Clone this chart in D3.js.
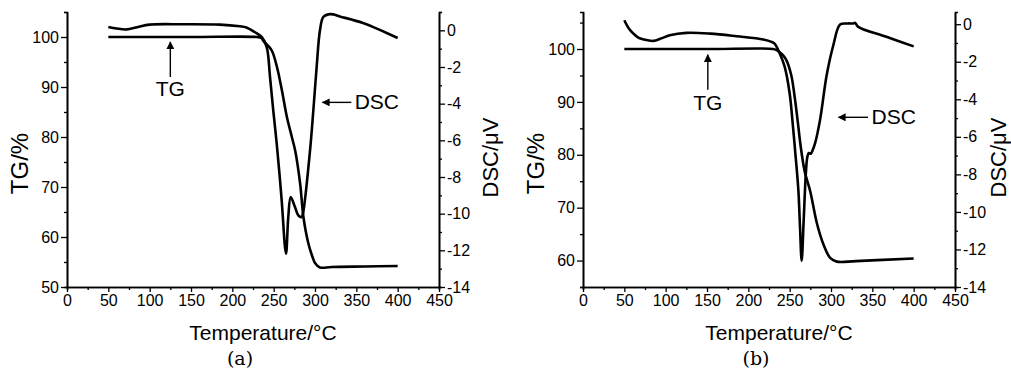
<!DOCTYPE html>
<html>
<head>
<meta charset="utf-8">
<script src="https://cdn.jsdelivr.net/npm/d3@7"></script>
<style>
  body { margin: 0; background: #fff; }
  svg { display: block; }
  text { font-family: "Liberation Sans", Arial, sans-serif; fill: #000; }
</style>
</head>
<body>
<svg id="chart"></svg>
<script>
var width = 1011;
var height = 371;

// temperature axis
var tempMajor = d3.range(0, 451, 50);
var tempMinor = d3.range(25, 450, 50);

// panel (a)
var tgTicksA = [50, 60, 70, 80, 90, 100];
var tgMinorA = [55, 65, 75, 85, 95, 105];
var dscTicksA = [-14, -12, -10, -8, -6, -4, -2, 0];
var dscMinorA = [-13, -11, -9, -7, -5, -3, -1, 1];
var tgA = [[50, 100], [150, 100], [230, 100], [235, 99.8], [238, 99.1], [243, 98.3], [248, 97.2],
  [254, 94], [260, 89.3], [266, 84], [272, 80], [276, 77.3], [282, 70.7], [286, 64], [292, 58.7],
  [297, 56], [300, 54.8], [306, 53.9], [320, 54], [360, 54.1], [400, 54.2]];
var dscA = [[50, 0.18], [60, 0.1], [72, 0.05], [85, 0.17], [100, 0.31], [140, 0.33], [185, 0.31],
  [209, 0.22], [217, 0.16], [227, -0.09], [235.5, -0.36], [241.6, -0.91], [245.6, -2.55],
  [249.5, -4.36], [253.7, -6.18], [259.7, -9.27], [263.7, -11.82], [265, -12.18], [267.7, -10.18],
  [270.6, -9.09], [275.8, -9.64], [279.8, -10.09], [283.9, -10.18], [285.5, -9.98], [294, -6.55],
  [298, -4.36], [302, -2.0], [306, 0], [310, 0.73], [316, 0.87], [322, 0.87], [330, 0.76],
  [358, 0.4], [400, -0.42]];

// panel (b)
var tgTicksB = [60, 70, 80, 90, 100];
var tgMinorB = [55, 65, 75, 85, 95, 105];
var dscTicksB = [-14, -12, -10, -8, -6, -4, -2, 0];
var dscMinorB = [-13, -11, -9, -7, -5, -3, -1];
var tgB = [[50, 100], [150, 100], [230, 100], [234, 99.8], [238, 99.4], [242, 98.8], [246, 97.9],
  [252, 95], [256, 91], [260, 86], [263, 82], [268, 77], [275, 73], [283, 67], [291, 63],
  [299, 60.5], [307, 59.8], [330, 59.9], [400, 60.4]];
var dscB = [[50, 0.21], [55, -0.2], [61, -0.5], [67, -0.72], [73, -0.81], [85, -0.89], [95, -0.75],
  [105, -0.59], [125, -0.46], [154, -0.5], [186, -0.64], [218, -0.81], [228, -0.94], [232, -1.05],
  [238, -1.56], [244, -2.27], [250, -3.69], [254, -5.46], [256.5, -6.7], [260.5, -8.83],
  [262.5, -10.8], [264.5, -12.6], [267, -10.4], [269.5, -8.0], [271.4, -7.07], [273.2, -6.86],
  [275.6, -6.9], [277.4, -6.75], [280.7, -6.35], [286.7, -5.11], [294.8, -2.71], [302.8, -1.12],
  [311, -0.02], [320, 0.04], [327, 0.04], [329, 0.08], [333, -0.14], [367, -0.67], [400, -1.18]];

var panels = [
  { left: 67, right: 439, tgDomain: [50, 105], dscDomain: [-14, 1],
    tgTicks: tgTicksA, tgMinor: tgMinorA, dscTicks: dscTicksA, dscMinor: dscMinorA,
    tg: tgA, dsc: dscA, label: '(a)',
    tgArrow: { t: 125, from: 92, to: 99, text: 88.3 },
    dscArrow: { y: -3.93, from: 344, to: 309, text: 348 },
    tgTitleX: 28, dscTitleX: 498 },
  { left: 583, right: 955, tgDomain: [55, 107], dscDomain: [-14, 0.65],
    tgTicks: tgTicksB, tgMinor: tgMinorB, dscTicks: dscTicksB, dscMinor: dscMinorB,
    tg: tgB, dsc: dscB, label: '(b)',
    tgArrow: { t: 151, from: 92.3, to: 98.9, text: 88.5 },
    dscArrow: { y: -4.96, from: 344.7, to: 309, text: 349 },
    tgTitleX: 544, dscTitleX: 1006 }
];

var plotTop = 12;
var plotBottom = 287;

var svg = d3.select('#chart')
  .attr('width', width)
  .attr('height', height);

svg.append('defs').append('marker')
  .attr('id', 'head')
  .attr('viewBox', '0 0 10 10')
  .attr('refX', 9)
  .attr('refY', 5)
  .attr('markerWidth', 8)
  .attr('markerHeight', 8)
  .attr('markerUnits', 'userSpaceOnUse')
  .attr('orient', 'auto')
  .append('path')
  .attr('d', 'M0,0 L10,5 L0,10 Z')
  .attr('fill', '#000');

panels.forEach(function (p) {
  var x = d3.scaleLinear().domain([0, 450]).range([p.left, p.right]);
  var yTg = d3.scaleLinear().domain(p.tgDomain).range([plotBottom, plotTop]);
  var yDsc = d3.scaleLinear().domain(p.dscDomain).range([plotBottom, plotTop]);
  var g = svg.append('g');

  function styleAxis(sel) {
    sel.selectAll('.domain').attr('stroke', '#000').attr('stroke-width', 1.6);
    sel.selectAll('.tick line').attr('stroke', '#000').attr('stroke-width', 1.3);
    sel.selectAll('text').attr('font-size', 16).attr('font-family', '"Liberation Sans", Arial, sans-serif');
  }

  // minor ticks first
  g.append('g').attr('transform', `translate(0,${plotBottom})`)
    .call(d3.axisBottom(x).tickValues(tempMinor).tickSize(3).tickFormat(''))
    .call(styleAxis);
  g.append('g').attr('transform', `translate(${p.left},0)`)
    .call(d3.axisLeft(yTg).tickValues(p.tgMinor).tickSize(3).tickFormat(''))
    .call(styleAxis);
  g.append('g').attr('transform', `translate(${p.right},0)`)
    .call(d3.axisRight(yDsc).tickValues(p.dscMinor).tickSize(3).tickFormat(''))
    .call(styleAxis);

  // major ticks
  g.append('g').attr('transform', `translate(0,${plotBottom})`)
    .call(d3.axisBottom(x).tickValues(tempMajor).tickSize(5).tickSizeOuter(0).tickPadding(3))
    .call(styleAxis);
  g.append('g').attr('transform', `translate(${p.left},0)`)
    .call(d3.axisLeft(yTg).tickValues(p.tgTicks).tickSize(6).tickSizeOuter(0).tickPadding(2))
    .call(styleAxis);
  g.append('g').attr('transform', `translate(${p.right},0)`)
    .call(d3.axisRight(yDsc).tickValues(p.dscTicks).tickSize(6).tickSizeOuter(0).tickPadding(2)
      .tickFormat(d => String(d)))
    .call(styleAxis);

  // curves
  [[p.tg, yTg], [p.dsc, yDsc]].forEach(function (s) {
    var line = d3.line()
      .x(d => x(d[0]))
      .y(d => s[1](d[1]))
      .curve(d3.curveCatmullRom.alpha(0.5));
    g.append('path')
      .datum(s[0])
      .attr('d', line)
      .attr('fill', 'none')
      .attr('stroke', '#000')
      .attr('stroke-width', 2.6)
      .attr('stroke-linejoin', 'round');
  });

  // annotations
  g.append('line')
    .attr('x1', x(p.tgArrow.t)).attr('x2', x(p.tgArrow.t))
    .attr('y1', yTg(p.tgArrow.from)).attr('y2', yTg(p.tgArrow.to))
    .attr('stroke', '#000').attr('stroke-width', 1.4)
    .attr('marker-end', 'url(#head)');
  g.append('text')
    .attr('x', x(p.tgArrow.t)).attr('y', yTg(p.tgArrow.text))
    .attr('text-anchor', 'middle').attr('font-size', 21)
    .text('TG');
  g.append('line')
    .attr('x1', x(p.dscArrow.from)).attr('x2', x(p.dscArrow.to))
    .attr('y1', yDsc(p.dscArrow.y)).attr('y2', yDsc(p.dscArrow.y))
    .attr('stroke', '#000').attr('stroke-width', 1.4)
    .attr('marker-end', 'url(#head)');
  g.append('text')
    .attr('x', x(p.dscArrow.text)).attr('y', yDsc(p.dscArrow.y) + 7)
    .attr('font-size', 21)
    .text('DSC');

  // titles
  g.append('text')
    .attr('transform', `translate(${p.tgTitleX},${(plotTop + plotBottom) / 2 + 14}) rotate(-90)`)
    .attr('text-anchor', 'middle').attr('font-size', 24)
    .text('TG/%');
  g.append('text')
    .attr('transform', `translate(${p.dscTitleX},${(plotTop + plotBottom) / 2 + 8}) rotate(-90)`)
    .attr('text-anchor', 'middle').attr('font-size', 22)
    .text('DSC/μV');
  g.append('text')
    .attr('x', (p.left + p.right) / 2 + 10).attr('y', 340)
    .attr('text-anchor', 'middle').attr('font-size', 21)
    .text('Temperature/°C');
  g.append('text')
    .attr('x', (p.left + p.right) / 2 - 13).attr('y', 365)
    .attr('text-anchor', 'middle').attr('font-size', 19)
    .style('font-family', '"DejaVu Serif", "Liberation Serif", serif')
    .text(p.label);
});
</script>
</body>
</html>
